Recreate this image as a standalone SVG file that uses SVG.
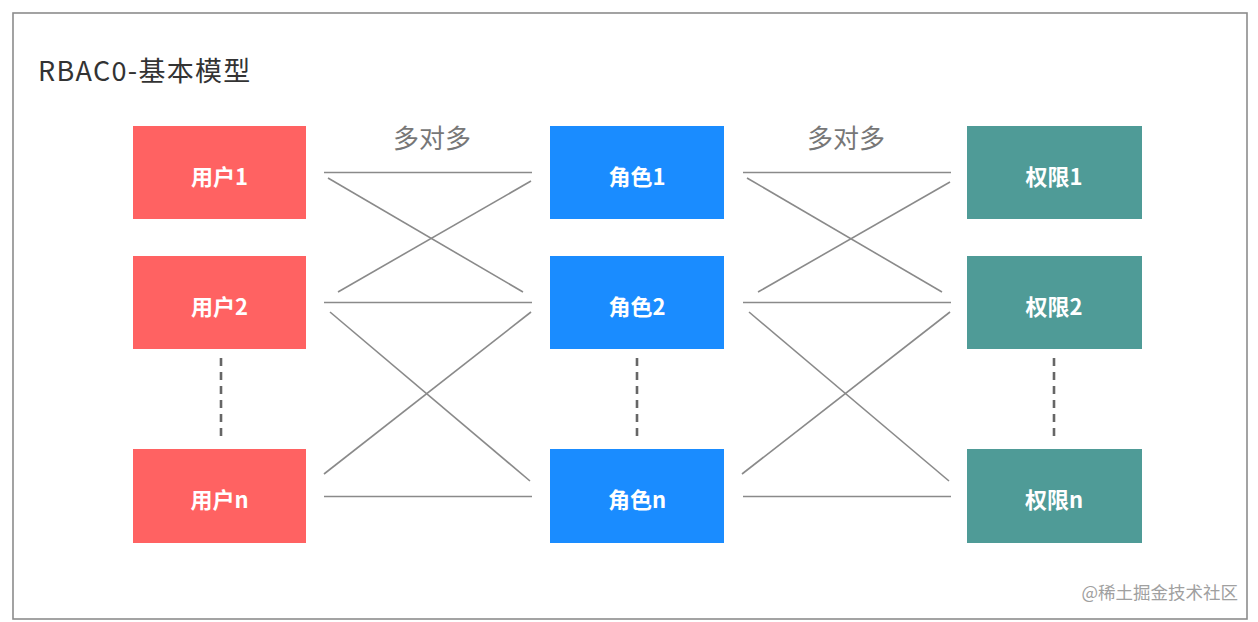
<svg xmlns="http://www.w3.org/2000/svg" width="1258" height="622" viewBox="0 0 1258 622">
<style>
.lbl{font-family:"Noto Sans CJK SC","Noto Sans",sans-serif;font-size:22px;font-weight:bold;fill:#ffffff;text-anchor:middle;dominant-baseline:central}
.u{fill:#FF6262}
.r{fill:#1A8CFF}
.p{fill:#4F9B97}
.ln{stroke:#8a8a8a;stroke-width:1.6;fill:none}
.dash{stroke:#666666;stroke-width:2.6;stroke-dasharray:8 6;fill:none}
.mm{font-family:"Noto Sans CJK SC","Noto Sans",sans-serif;font-size:26px;fill:#777777;text-anchor:middle}
</style>
<rect x="0" y="0" width="1258" height="622" fill="#ffffff"/>
<rect x="13" y="13" width="1234" height="606" fill="none" stroke="#8c8c8c" stroke-width="1.6"/>
<text x="38" y="81" font-family="'Noto Sans CJK SC','Noto Sans',sans-serif" font-size="27" fill="#333333" letter-spacing="1.3">RBAC0-基本模型</text>
<text class="mm" x="432" y="148">多对多</text>
<text class="mm" x="846" y="148">多对多</text>

<g id="connectors">
<line class="ln" x1="324" y1="172.5" x2="532" y2="172.5"/>
<line class="ln" x1="328" y1="178" x2="523" y2="292"/>
<line class="ln" x1="338" y1="292" x2="531" y2="181"/>
<line class="ln" x1="324" y1="302.5" x2="532" y2="302.5"/>
<line class="ln" x1="330" y1="312" x2="530" y2="481"/>
<line class="ln" x1="324" y1="474" x2="531" y2="312"/>
<line class="ln" x1="324" y1="496.5" x2="532" y2="496.5"/>

<line class="ln" x1="743" y1="172.5" x2="951" y2="172.5"/>
<line class="ln" x1="747" y1="178" x2="942" y2="292"/>
<line class="ln" x1="758" y1="292" x2="950" y2="182"/>
<line class="ln" x1="743" y1="302.5" x2="951" y2="302.5"/>
<line class="ln" x1="749" y1="312" x2="949" y2="481"/>
<line class="ln" x1="742" y1="474" x2="950" y2="312"/>
<line class="ln" x1="743" y1="496.5" x2="951" y2="496.5"/>

<line class="dash" x1="221" y1="358" x2="221" y2="440"/>
<line class="dash" x1="637" y1="358" x2="637" y2="440"/>
<line class="dash" x1="1054" y1="358" x2="1054" y2="440"/>
</g>

<g id="user1"><rect class="u" x="133" y="126" width="173" height="93"/><text class="lbl" x="219.5" y="174.5">用户1</text></g>
<g id="user2"><rect class="u" x="133" y="256" width="173" height="93"/><text class="lbl" x="219.5" y="304.5">用户2</text></g>
<g id="usern"><rect class="u" x="133" y="449" width="173" height="94"/><text class="lbl" x="219.5" y="498">用户n</text></g>

<g id="role1"><rect class="r" x="550" y="126" width="174" height="93"/><text class="lbl" x="637" y="174.5">角色1</text></g>
<g id="role2"><rect class="r" x="550" y="256" width="174" height="93"/><text class="lbl" x="637" y="304.5">角色2</text></g>
<g id="rolen"><rect class="r" x="550" y="449" width="174" height="94"/><text class="lbl" x="637" y="498">角色n</text></g>

<g id="perm1"><rect class="p" x="967" y="126" width="175" height="93"/><text class="lbl" x="1054" y="174.5">权限1</text></g>
<g id="perm2"><rect class="p" x="967" y="256" width="175" height="93"/><text class="lbl" x="1054" y="304.5">权限2</text></g>
<g id="permn"><rect class="p" x="967" y="449" width="175" height="94"/><text class="lbl" x="1054" y="498">权限n</text></g>

<text x="1238" y="599" text-anchor="end" font-family="'Noto Sans CJK SC','Noto Sans',sans-serif" font-size="17.5" fill="#a0a0a0">@稀土掘金技术社区</text>
</svg>
